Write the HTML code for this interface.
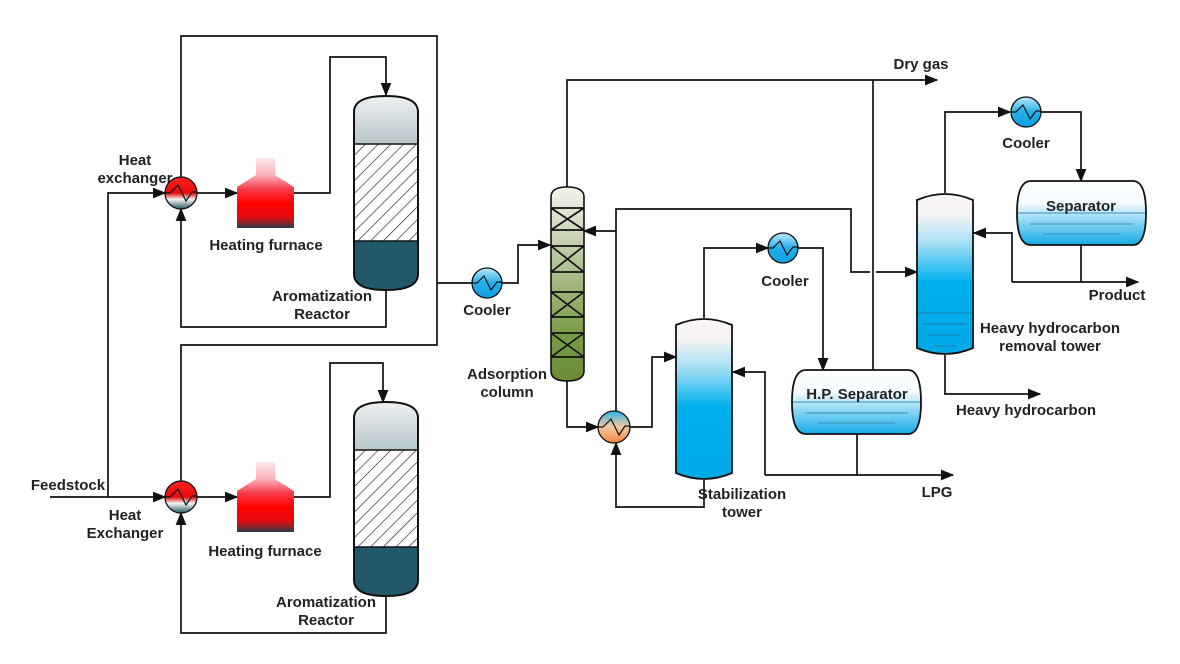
<!DOCTYPE html>
<html><head><meta charset="utf-8"><style>
html,body{margin:0;padding:0;background:#fff;}
svg{display:block;}
text{font-family:"Liberation Sans",sans-serif;font-weight:bold;font-size:15px;fill:#222;}
</style></head><body>
<svg width="1180" height="664" viewBox="0 0 1180 664" xmlns="http://www.w3.org/2000/svg">
<defs>
<marker id="a" viewBox="0 0 10 10" refX="9" refY="5" markerWidth="8" markerHeight="8" orient="auto"><path d="M0,1 L10,5 L0,9z" fill="#111"/></marker>
<linearGradient id="furn" x1="0" y1="0" x2="0" y2="1"><stop offset="0" stop-color="#fde8ea"/><stop offset="0.25" stop-color="#fbb0b8"/><stop offset="0.45" stop-color="#f53846"/><stop offset="0.65" stop-color="#ff0000"/><stop offset="0.85" stop-color="#e00c10"/><stop offset="1" stop-color="#2e3a48"/></linearGradient>
<linearGradient id="gray" x1="0" y1="0" x2="0" y2="1"><stop offset="0" stop-color="#eef1f2"/><stop offset="1" stop-color="#b7c5c9"/></linearGradient>
<linearGradient id="hxr" x1="0" y1="0" x2="0" y2="1"><stop offset="0" stop-color="#ff2020"/><stop offset="0.5" stop-color="#e40b0b"/><stop offset="0.7" stop-color="#f4f4f4"/><stop offset="1" stop-color="#225a66"/></linearGradient>
<linearGradient id="hxo" x1="0" y1="0" x2="0" y2="1"><stop offset="0" stop-color="#2ab4e8"/><stop offset="0.5" stop-color="#f5c8a0"/><stop offset="1" stop-color="#f08840"/></linearGradient>
<linearGradient id="cool" x1="0" y1="0" x2="0" y2="1"><stop offset="0" stop-color="#bfe7f8"/><stop offset="0.5" stop-color="#25b0ea"/><stop offset="1" stop-color="#0aa0e0"/></linearGradient>
<linearGradient id="tow" x1="0" y1="0" x2="0" y2="1"><stop offset="0" stop-color="#fbf5f5"/><stop offset="0.12" stop-color="#f7f4f4"/><stop offset="0.3" stop-color="#a9e0f4"/><stop offset="0.55" stop-color="#00b0ee"/><stop offset="1" stop-color="#00a8e6"/></linearGradient>
<linearGradient id="sep" x1="0" y1="0" x2="0" y2="1"><stop offset="0" stop-color="#ffffff"/><stop offset="0.35" stop-color="#f4fbfe"/><stop offset="0.5" stop-color="#b8e6f8"/><stop offset="1" stop-color="#14abe8"/></linearGradient>
<linearGradient id="ads" x1="0" y1="0" x2="0" y2="1"><stop offset="0" stop-color="#f4f3ec"/><stop offset="0.4" stop-color="#b2c296"/><stop offset="0.75" stop-color="#7a9c48"/><stop offset="1" stop-color="#6a8a38"/></linearGradient>
<pattern id="hatch" width="9" height="9" patternUnits="userSpaceOnUse" patternTransform="rotate(45)"><rect width="9" height="9" fill="#fff"/><line x1="0" y1="0" x2="0" y2="9" stroke="#222" stroke-width="1.3"/></pattern>
</defs>

<g fill="none" stroke="#111" stroke-width="1.7">
<path d="M181,177 V36 H437 V345 H181 V481"/>
<path d="M437,283 H472"/>
<path d="M502,283 H518 V245 H550" marker-end="url(#a)"/>
<path d="M50,497 H165" marker-end="url(#a)"/>
<path d="M108,497 V193 H165" marker-end="url(#a)"/>
<path d="M197,193 H237" marker-end="url(#a)"/>
<path d="M197,497 H237" marker-end="url(#a)"/>
<path d="M294,193 H330 V57 H386 V95" marker-end="url(#a)"/>
<path d="M294,497 H330 V363 H383 V402" marker-end="url(#a)"/>
<path d="M386,290 V327 H181 V209" marker-end="url(#a)"/>
<path d="M386,596 V633 H181 V513" marker-end="url(#a)"/>
<path d="M567,188 V80 H937" marker-end="url(#a)"/>
<path d="M567,380 V427 H598" marker-end="url(#a)"/>
<path d="M616,411 V231 H584" marker-end="url(#a)"/>
<path d="M616,231 V209 H851 V272 H870 M876,272 H917" marker-end="url(#a)"/>
<path d="M873,370 V80"/>
<path d="M630,427 H652 V357 H676" marker-end="url(#a)"/>
<path d="M704,318 V248 H768" marker-end="url(#a)"/>
<path d="M798,248 H823 V370" marker-end="url(#a)"/>
<path d="M857,434 V475"/>
<path d="M765,475 H953" marker-end="url(#a)"/>
<path d="M765,475 V372 H733" marker-end="url(#a)"/>
<path d="M704,480 V507 H616 V443" marker-end="url(#a)"/>
<path d="M945,193 V112 H1010" marker-end="url(#a)"/>
<path d="M1041,112 H1081 V181" marker-end="url(#a)"/>
<path d="M1081,245 V282"/>
<path d="M1012,282 H1138" marker-end="url(#a)"/>
<path d="M1012,282 V233 H974" marker-end="url(#a)"/>
<path d="M945,355 V394 H1040" marker-end="url(#a)"/>
</g>

<path d="M256,158 V175 L237,187 V228 H294 V187 L275,175 V158" fill="url(#furn)"/>
<path d="M256,462 V479 L237,491 V532 H294 V491 L275,479 V462" fill="url(#furn)"/>

<g>
<clipPath id="c1"><path d="M354,112 Q354,96 386,96 Q418,96 418,112 V274 Q418,290 386,290 Q354,290 354,274 Z"/></clipPath>
<g clip-path="url(#c1)">
<rect x="354" y="96" width="64" height="48" fill="url(#gray)"/>
<rect x="354" y="144" width="64" height="97" fill="url(#hatch)"/>
<rect x="354" y="241" width="64" height="50" fill="#22596a"/>
</g>
<path d="M354,112 Q354,96 386,96 Q418,96 418,112 V274 Q418,290 386,290 Q354,290 354,274 Z" fill="none" stroke="#111" stroke-width="2"/>
<path d="M354,144 H418 M354,241 H418" stroke="#111" stroke-width="1.5"/>
</g>
<g transform="translate(0,306)">
<clipPath id="c2"><path d="M354,112 Q354,96 386,96 Q418,96 418,112 V274 Q418,290 386,290 Q354,290 354,274 Z"/></clipPath>
<g clip-path="url(#c2)">
<rect x="354" y="96" width="64" height="48" fill="url(#gray)"/>
<rect x="354" y="144" width="64" height="97" fill="url(#hatch)"/>
<rect x="354" y="241" width="64" height="50" fill="#22596a"/>
</g>
<path d="M354,112 Q354,96 386,96 Q418,96 418,112 V274 Q418,290 386,290 Q354,290 354,274 Z" fill="none" stroke="#111" stroke-width="2"/>
<path d="M354,144 H418 M354,241 H418" stroke="#111" stroke-width="1.5"/>
</g>

<g stroke="#111" stroke-width="1.3">
<circle cx="181" cy="193" r="16" fill="url(#hxr)"/>
<circle cx="181" cy="497" r="16" fill="url(#hxr)"/>
<circle cx="614" cy="427" r="16" fill="url(#hxo)"/>
<circle cx="487" cy="283" r="15" fill="url(#cool)"/>
<circle cx="783" cy="248" r="15" fill="url(#cool)"/>
<circle cx="1026" cy="112" r="15" fill="url(#cool)"/>
</g>
<g fill="none" stroke="#111" stroke-width="1.2">
<path d="M165,193 H170 L178,185 L186,201 L192,192 H197"/>
<path d="M165,497 H170 L178,489 L186,505 L192,496 H197"/>
<path d="M598,427 H603 L611,419 L619,435 L625,426 H630"/>
<path d="M472,283 H477 L484,276 L491,290 L497,282 H502"/>
<path d="M768,248 H773 L780,241 L787,255 L793,247 H798"/>
<path d="M1011,112 H1016 L1023,105 L1030,119 L1036,111 H1041"/>
</g>

<path d="M551,197 Q551,187 567,187 Q584,187 584,197 V371 Q584,381 567,381 Q551,381 551,371 Z" fill="url(#ads)" stroke="#111" stroke-width="1.6"/>
<g stroke="#111" stroke-width="1.7" fill="none">
<path d="M551,208 H584 M551,230 H584 M551,208 L584,230 M584,208 L551,230"/>
<path d="M551,246 H584 M551,272 H584 M551,246 L584,272 M584,246 L551,272"/>
<path d="M551,292 H584 M551,317 H584 M551,292 L584,317 M584,292 L551,317"/>
<path d="M551,333 H584 M551,357 H584 M551,333 L584,357 M584,333 L551,357"/>
</g>

<path d="M676,325 Q704,313 732,325 V473 Q704,485 676,473 Z" fill="url(#tow)" stroke="#111" stroke-width="1.8"/>
<path d="M917,200 Q945,188 973,200 V348 Q945,360 917,348 Z" fill="url(#tow)" stroke="#111" stroke-width="1.8"/>
<g stroke="#1a7fae" stroke-width="1">
<path d="M918,313 H972 M924,324 H966 M929,335 H961 M934,346 H956"/>
</g>

<path d="M806,370 H908 Q921,370 921,402 Q921,434 908,434 H806 Q792,434 792,402 Q792,370 806,370 Z" fill="url(#sep)" stroke="#111" stroke-width="1.8"/>
<path d="M793,402 H920 M805,413 H908 M818,423 H895" stroke="#3a8fb8" stroke-width="1"/>
<path d="M1031,181 H1133 Q1146,181 1146,213 Q1146,245 1133,245 H1031 Q1017,245 1017,213 Q1017,181 1031,181 Z" fill="url(#sep)" stroke="#111" stroke-width="1.8"/>
<path d="M1018,213 H1145 M1030,224 H1133 M1043,234 H1120" stroke="#3a8fb8" stroke-width="1"/>

<g text-anchor="middle">
<text x="135" y="165">Heat</text>
<text x="135" y="183">exchanger</text>
<text x="266" y="250">Heating furnace</text>
<text x="322" y="301">Aromatization</text>
<text x="322" y="319">Reactor</text>
<text x="487" y="315">Cooler</text>
<text x="507" y="379">Adsorption</text>
<text x="507" y="397">column</text>
<text x="921" y="69">Dry gas</text>
<text x="785" y="286">Cooler</text>
<text x="1026" y="148">Cooler</text>
<text x="1081" y="211">Separator</text>
<text x="1117" y="300">Product</text>
<text x="1050" y="333">Heavy hydrocarbon</text>
<text x="1050" y="351">removal tower</text>
<text x="1026" y="415">Heavy hydrocarbon</text>
<text x="857" y="399">H.P. Separator</text>
<text x="742" y="499">Stabilization</text>
<text x="742" y="517">tower</text>
<text x="937" y="497">LPG</text>
<text x="68" y="490">Feedstock</text>
<text x="125" y="520">Heat</text>
<text x="125" y="538">Exchanger</text>
<text x="265" y="556">Heating furnace</text>
<text x="326" y="607">Aromatization</text>
<text x="326" y="625">Reactor</text>
</g>
</svg>
</body></html>
